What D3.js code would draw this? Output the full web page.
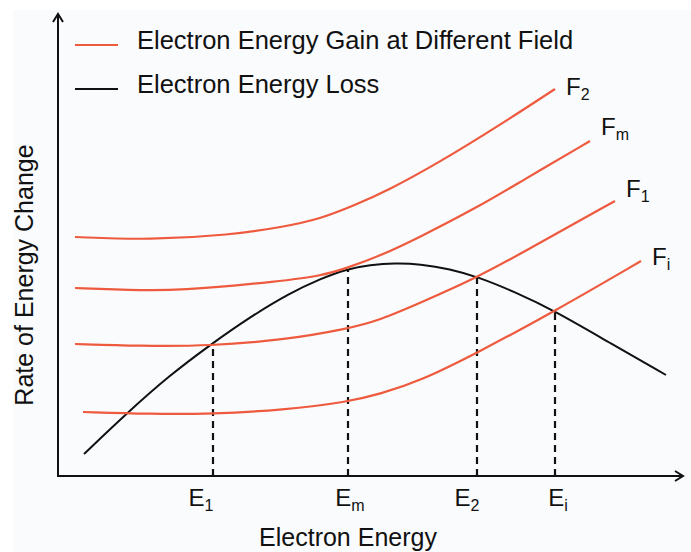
<!DOCTYPE html>
<html>
<head>
<meta charset="utf-8">
<title>electron energy gain and loss</title>
<script src="https://d3js.org/d3.v7.min.js"></script>
<style>
    body { margin: 0; background: #fff; }
    text {
        font-family: "Liberation Sans", Arial, sans-serif;
        fill: #111;
    }
</style>
</head>
<body>
<script>
    var width = 691, height = 552;

    // electron energy (x) vs rate of energy change (y), arbitrary units
    var lossX = [5.2, 13.8, 22.4, 30.4, 38.4, 46.4, 52.4, 57.8, 62.4, 67.4, 72.4, 78.4, 84, 91.4, 99.4, 110.4, 121.6];
    var lossY = [4.4, 12.6, 20.2, 26.2, 31.8, 36.6, 39.4, 41.4, 42.2, 42.6, 42.4, 41.4, 39.8, 36.8, 33, 26.6, 20.2];

    var f2X = [3.4, 18.4, 34.4, 45, 52.4, 59.4, 65.8, 76.4, 88.4, 99.4];
    var f2Y = [47.8, 47.2, 48.2, 49.8, 51.4, 54.2, 57, 62.8, 70.2, 77.4];
    var fmX = [3.4, 14.4, 23.8, 45, 52.4, 57.8, 64.4, 72.4, 84, 92.4, 106.4];
    var fmY = [37.6, 37.2, 37, 39, 40, 41.6, 44, 47.8, 53.8, 58.8, 67];
    var f1X = [3.4, 16.4, 30.4, 45, 57.8, 64.4, 72.4, 84, 92.4, 111.4];
    var f1Y = [26.4, 26, 26, 27.2, 29.4, 31.2, 34.6, 39.8, 44.4, 55];
    var fiX = [5, 18.4, 31, 45, 58, 64.4, 72.4, 83.8, 99.4, 116.6];
    var fiY = [12.8, 12.4, 12.4, 13.2, 14.8, 16.4, 19, 24.6, 33, 43];

    var fieldSubs = ['2', 'm', '1', 'i'];

    // characteristic energies and where the dashed guides stop
    var energySubs = ['1', 'm', '2', 'i'];
    var energyX = [31, 58, 83.8, 99.4];
    var energyY = [26, 41.4, 39.8, 33];

    var legendLabels = ['Electron Energy Gain at Different Field', 'Electron Energy Loss'];

    var red = '#ee5a3e', black = '#111';

    var gains = [
        { sub: fieldSubs[0], pts: d3.zip(f2X, f2Y) },
        { sub: fieldSubs[1], pts: d3.zip(fmX, fmY) },
        { sub: fieldSubs[2], pts: d3.zip(f1X, f1Y) },
        { sub: fieldSubs[3], pts: d3.zip(fiX, fiY) }
    ];
    var labelDy = [6, -6, -4, 4];
    var energyDx = [-12, 2, -10, 3];

    var x = d3.scaleLinear().domain([0, 125]).range([58, 683]);
    var y = d3.scaleLinear().domain([0, 92]).range([476, 16]);

    var svg = d3.select('body').append('svg')
        .attr('width', width)
        .attr('height', height);

    svg.append('rect')
        .attr('x', 13).attr('y', 10)
        .attr('width', width - 13).attr('height', height - 10)
        .style('fill', '#fafbfd');

    var defs = svg.append('defs');
    defs.append('marker')
        .attr('id', 'arrow')
        .attr('viewBox', '0 0 12 12')
        .attr('refX', 10).attr('refY', 6)
        .attr('markerWidth', 12).attr('markerHeight', 12)
        .attr('markerUnits', 'userSpaceOnUse')
        .attr('orient', 'auto')
        .append('path')
        .attr('d', 'M2,1 L10,6 L2,11')
        .style('fill', 'none')
        .style('stroke', black)
        .style('stroke-width', 2);

    // axes
    svg.append('line')
        .attr('x1', x(0)).attr('y1', y(0))
        .attr('x2', x(0)).attr('y2', y(92) - 2)
        .style('stroke', black).style('stroke-width', 2)
        .attr('marker-end', 'url(#arrow)');
    svg.append('line')
        .attr('x1', x(0) - 1).attr('y1', y(0))
        .attr('x2', x(125)).attr('y2', y(0))
        .style('stroke', black).style('stroke-width', 2)
        .attr('marker-end', 'url(#arrow)');

    var line = d3.line()
        .x(function(d) { return x(d[0]); })
        .y(function(d) { return y(d[1]); })
        .curve(d3.curveBasis);

    // dashed guides
    svg.append('g').selectAll('line')
        .data(energyX).enter()
        .append('line')
        .attr('x1', function(d) { return x(d); })
        .attr('x2', function(d) { return x(d); })
        .attr('y1', y(0))
        .attr('y2', function(d, i) { return y(energyY[i]); })
        .style('stroke', black)
        .style('stroke-width', 2.2)
        .style('stroke-dasharray', '7,5');

    svg.append('path')
        .datum(d3.zip(lossX, lossY))
        .attr('d', line)
        .style('fill', 'none')
        .style('stroke', black)
        .style('stroke-width', 2);

    svg.append('g').selectAll('path')
        .data(gains).enter()
        .append('path')
        .attr('d', function(d) { return line(d.pts); })
        .style('fill', 'none')
        .style('stroke', red)
        .style('stroke-width', 2.2);

    // F labels at curve ends
    var fl = svg.append('g').selectAll('text')
        .data(gains).enter()
        .append('text')
        .attr('x', function(d) { var p = d.pts[d.pts.length - 1]; return x(p[0]) + 11; })
        .attr('y', function(d, i) { var p = d.pts[d.pts.length - 1]; return y(p[1]) + labelDy[i]; })
        .style('font-size', '24px');
    fl.append('tspan').text('F');
    fl.append('tspan')
        .attr('dy', 5)
        .style('font-size', '16px')
        .text(function(d) { return d.sub; });

    // E labels under the axis
    var el = svg.append('g').selectAll('text')
        .data(energyX).enter()
        .append('text')
        .attr('x', function(d, i) { return x(d) + energyDx[i]; })
        .attr('y', 506)
        .style('text-anchor', 'middle')
        .style('font-size', '24px');
    el.append('tspan').text('E');
    el.append('tspan')
        .attr('dy', 5)
        .style('font-size', '16px')
        .text(function(d, i) { return energySubs[i]; });

    // axis titles
    svg.append('text')
        .attr('x', 348).attr('y', 546)
        .style('text-anchor', 'middle')
        .style('font-size', '25px')
        .text('Electron Energy');
    svg.append('text')
        .attr('transform', 'translate(33,' + 275 + ') rotate(-90)')
        .style('text-anchor', 'middle')
        .style('font-size', '25px')
        .text('Rate of Energy Change');

    // legend
    var legend = svg.append('g').selectAll('g')
        .data(legendLabels).enter()
        .append('g')
        .attr('transform', function(d, i) { return 'translate(75,' + (45 + i * 44) + ')'; });
    legend.append('line')
        .attr('x1', 0).attr('x2', 43)
        .style('stroke', function(d, i) { return i === 0 ? red : black; })
        .style('stroke-width', 2);
    legend.append('text')
        .attr('x', 62).attr('dy', 4)
        .style('font-size', '25.5px')
        .text(function(d) { return d; });
</script>
</body>
</html>
